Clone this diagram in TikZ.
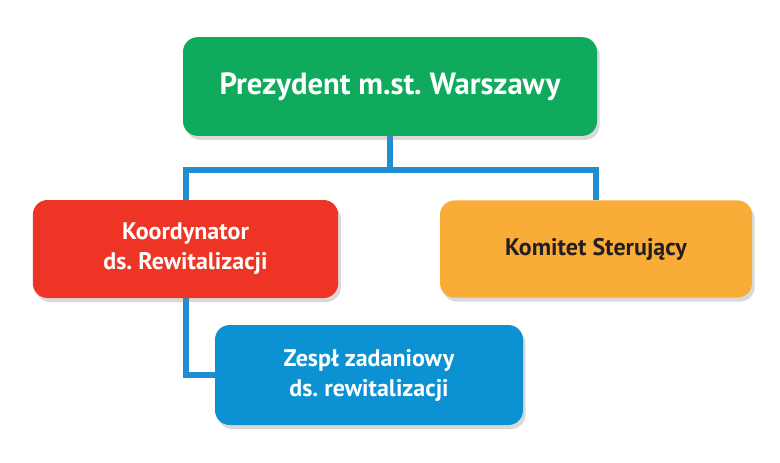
\documentclass[tikz,border=0pt]{standalone}
\usepackage{fontspec}
\setmainfont{PT Sans}
\frenchspacing
\usetikzlibrary{shadows,backgrounds}

\definecolor{prezgreen}{RGB}{16,170,92}
\definecolor{koordred}{RGB}{238,52,36}
\definecolor{komorange}{RGB}{249,172,56}
\definecolor{zespblue}{RGB}{12,146,210}
\definecolor{linkblue}{RGB}{30,142,208}
\definecolor{textdark}{RGB}{35,31,32}

\begin{document}
\begin{tikzpicture}[x=0.75pt,y=-0.75pt,
    box/.style={rounded corners=11pt,inner sep=0pt,
        drop shadow={shadow xshift=2pt,shadow yshift=-3pt,opacity=0.3},
        align=center,font=\bfseries\fontsize{18}{22.5}\selectfont},
    link/.style={linkblue,line width=4.5pt}]

% === Canvas ===
\useasboundingbox (0,0) rectangle (780,462);

% === Boxes ===
\node[box,fill=prezgreen,text=white,minimum width=310.5pt,minimum height=74pt,
      font=\bfseries\fontsize{23}{28}\selectfont]
      (prez) at (390,86.5) {Prezydent m.st. Warszawy};

\node[box,fill=koordred,text=white,minimum width=229pt,minimum height=73.5pt]
      (koord) at (185.5,249) {Koordynator\\ds. Rewitalizacji};

\node[box,fill=komorange,text=textdark,minimum width=234pt,minimum height=73pt]
      (komitet) at (596,249) {Komitet Sterujący};

\node[box,fill=zespblue,text=white,minimum width=231pt,minimum height=75pt]
      (zesp) at (369,375) {Zespł zadaniowy\\ds. rewitalizacji};

% === Connectors ===
\coordinate (bus) at (390,170);
\begin{scope}[on background layer]
    \draw[link] (prez.south) -- (bus);
    \draw[link] (bus) -| (koord.north);
    \draw[link] (bus) -| (komitet.north);
    \draw[link] (koord.south) |- (zesp.west);
\end{scope}

\end{tikzpicture}
\end{document}
